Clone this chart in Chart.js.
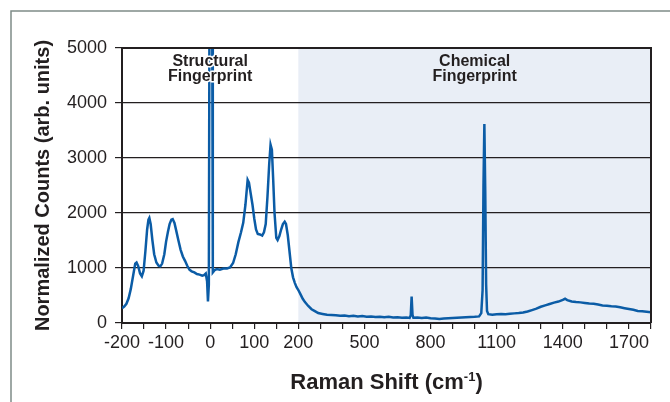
<!DOCTYPE html>
<html>
<head>
<meta charset="utf-8">
<script src="https://cdn.jsdelivr.net/npm/chart.js@4.4.1/dist/chart.umd.min.js"></script>
<style>
  html, body { margin: 0; padding: 0; background: #fff; }
</style>
</head>
<body>
<canvas id="ramanChart" width="670" height="402"></canvas>
<script>
// Raman shift (cm-1) and normalized counts
var shift = [
  -200, -195, -190, -185, -180, -175, -170, -167, -163, -159, -155, -151, -147, -143, -140, -138,
  -135, -131, -127, -122, -117, -113, -109, -104, -100, -96, -92, -88, -85, -81, -77, -72,
  -67, -62, -57, -52, -47, -42, -36, -30, -24, -18, -14, -10, -7, -5, -3, -1.5,
  4.5, 6, 10, 15, 22, 30, 38, 45, 52, 58, 64, 70, 75, 80, 85, 88,
  92, 96, 100, 104, 108, 113, 118, 122, 126, 130, 134, 137, 140, 143, 146, 150,
  153, 157, 161, 165, 169, 172, 176, 180, 184, 188, 192, 196, 200,
  210, 220, 230, 245, 260, 275, 290, 310, 330, 350, 370, 390, 410, 430, 450, 470,
  490, 510, 530, 550, 570, 590, 610, 630, 650, 670, 690, 705, 710, 714, 718, 722,
  740, 760, 780, 800, 820, 840, 860, 880, 900, 920, 940, 960, 980, 1000, 1020, 1030,
  1036, 1040, 1044, 1048, 1052, 1056, 1062, 1080, 1100, 1120, 1140, 1160, 1180, 1200, 1220, 1240,
  1260, 1280, 1300, 1320, 1340, 1360, 1380, 1400, 1410, 1420, 1440, 1460, 1480, 1500, 1520, 1540,
  1560, 1580, 1600, 1620, 1640, 1660, 1680, 1700, 1720, 1740, 1760, 1780, 1800
];
var counts = [
  270, 300, 350, 450, 620, 850, 1080, 1100, 1030, 900, 850, 950, 1300, 1700, 1880, 1910,
  1800, 1500, 1250, 1100, 1040, 1030, 1080, 1250, 1480, 1650, 1800, 1880, 1890, 1820, 1680, 1500,
  1330, 1210, 1130, 1040, 970, 940, 920, 890, 880, 860, 870, 900, 760, 390, 700, 6000,
  6000, 920, 960, 980, 970, 990, 990, 1010, 1090, 1250, 1470, 1650, 1820, 2150, 2600, 2550,
  2350, 2150, 1900, 1700, 1620, 1610, 1590, 1650, 1800, 2300, 2900, 3240, 3150, 2600, 2000, 1550,
  1510, 1580, 1700, 1800, 1840, 1800, 1600, 1300, 1000, 830, 730, 650, 600,
  520, 440, 380, 310, 250, 215, 180, 165, 150, 145, 140, 130, 135, 125, 130, 120,
  125, 115, 120, 110, 115, 105, 112, 100, 105, 95, 100, 92, 140, 480, 150, 95,
  100, 92, 98, 88, 80, 72, 80, 85, 90, 95, 100, 105, 110, 112, 120, 180,
  600, 2500, 3620, 2400, 700, 220, 160, 150, 160, 165, 160, 170, 175, 180, 190, 210,
  235, 260, 295, 320, 345, 370, 390, 420, 440, 415, 390, 380, 375, 365, 355, 350,
  335, 320, 315, 305, 300, 285, 270, 255, 240, 220, 215, 205, 195
];
var xTickLabels = [-200, -100, 0, 100, 200, 500, 800, 1100, 1400, 1700];
var yTicks = [0, 1000, 2000, 3000, 4000, 5000];
var regionLabels = [
  { at: 0, lines: ['Structural', 'Fingerprint'] },
  { at: 1000, lines: ['Chemical', 'Fingerprint'] }
];
var chemicalStart = 200;

// axis is broken at 200: above it one unit on the axis stands for two cm-1
function toAxis(v) { return v <= 200 ? v : 200 + (v - 200) / 2; }
function fromAxis(v) { return v <= 200 ? v : 200 + (v - 200) * 2; }

var points = shift.map(function (s, i) { return { x: toAxis(s), y: counts[i] }; });

var ink = '#231f20';
var fontFamily = '"Liberation Sans", Arial, Helvetica, sans-serif';

var decorations = {
  id: 'decorations',
  beforeDraw: function (chart) {
    var ctx = chart.ctx, area = chart.chartArea, xs = chart.scales.x;
    ctx.save();
    ctx.fillStyle = '#ffffff';
    ctx.fillRect(0, 0, chart.width, chart.height);
    // shaded chemical fingerprint region
    var x0 = xs.getPixelForValue(toAxis(chemicalStart));
    ctx.fillStyle = '#e9eef6';
    ctx.fillRect(x0, area.top, area.right - x0, area.bottom - area.top);
    // outer frame
    ctx.strokeStyle = '#7f8c88';
    ctx.lineWidth = 1.5;
    ctx.beginPath();
    ctx.moveTo(11, chart.height);
    ctx.lineTo(11, 11);
    ctx.lineTo(chart.width, 11);
    ctx.stroke();
    ctx.restore();
  },
  afterDatasetsDraw: function (chart) {
    var ctx = chart.ctx, area = chart.chartArea, xs = chart.scales.x;
    ctx.save();
    ctx.strokeStyle = ink;
    ctx.lineWidth = 2;
    ctx.beginPath();
    ctx.moveTo(area.left, area.top);
    ctx.lineTo(area.right, area.top);
    ctx.lineTo(area.right, area.bottom);
    ctx.stroke();

    // region captions
    ctx.font = 'bold 16px ' + fontFamily;
    ctx.textAlign = 'center';
    ctx.textBaseline = 'middle';
    ctx.lineJoin = 'round';
    regionLabels.forEach(function (r) {
      var cx = xs.getPixelForValue(toAxis(r.at));
      r.lines.forEach(function (t, k) {
        var cy = area.top + 14 + k * 15;
        ctx.strokeStyle = r.at < chemicalStart ? '#ffffff' : '#e9eef6';
        ctx.lineWidth = 3;
        ctx.strokeText(t, cx, cy);
        ctx.fillStyle = ink;
        ctx.fillText(t, cx, cy);
      });
    });

    // x axis title with superscript
    var main = 'Raman Shift (cm', sup = '-1', tail = ')';
    var big = 'bold 22px ' + fontFamily, small = 'bold 13px ' + fontFamily;
    ctx.font = big;
    var wMain = ctx.measureText(main).width, wTail = ctx.measureText(tail).width;
    ctx.font = small;
    var wSup = ctx.measureText(sup).width;
    var total = wMain + wSup + wTail;
    var left = (area.left + area.right) / 2 - total / 2;
    var base = 389;
    ctx.textAlign = 'left';
    ctx.textBaseline = 'alphabetic';
    ctx.fillStyle = ink;
    ctx.font = big;
    ctx.fillText(main, left, base);
    ctx.font = small;
    ctx.fillText(sup, left + wMain, base - 8);
    ctx.font = big;
    ctx.fillText(tail, left + wMain + wSup, base);
    ctx.restore();
  }
};

var ctx = document.getElementById('ramanChart').getContext('2d');
var ramanChart = new Chart(ctx, {
  type: 'line',
  data: {
    datasets: [{
      data: points,
      borderColor: '#0b5ca6',
      borderWidth: 2.5,
      pointRadius: 0,
      fill: false,
      tension: 0
    }]
  },
  options: {
    responsive: false,
    animation: false,
    parsing: false,
    layout: { padding: { top: 48, right: 19, left: 0, bottom: 0 } },
    plugins: { legend: { display: false }, tooltip: { enabled: false } },
    scales: {
      x: {
        type: 'linear',
        min: toAxis(-200),
        max: toAxis(1800),
        afterFit: function (scale) { scale.height = 79; },
        grid: { drawOnChartArea: false, drawTicks: true, tickLength: 6, color: ink, lineWidth: 1.2 },
        border: { display: true, color: ink, width: 2 },
        ticks: {
          stepSize: 50,
          autoSkip: false,
          maxRotation: 0,
          padding: 3,
          color: ink,
          font: { family: fontFamily, size: 18 },
          callback: function (v) {
            var real = Math.round(fromAxis(v));
            return xTickLabels.indexOf(real) >= 0 ? String(real) : '';
          }
        }
      },
      y: {
        min: yTicks[0],
        max: yTicks[yTicks.length - 1],
        afterFit: function (scale) { scale.width = 122; },
        afterBuildTicks: function (scale) { scale.ticks = yTicks.map(function (v) { return { value: v }; }); },
        grid: { color: ink, lineWidth: 1.2, tickLength: 7 },
        border: { display: true, color: ink, width: 2 },
        ticks: {
          padding: 8,
          color: ink,
          font: { family: fontFamily, size: 18 },
          callback: function (v) { return String(v); }
        },
        title: {
          display: true,
          text: 'Normalized Counts (arb. units)',
          color: ink,
          padding: { top: 31, bottom: 0 },
          font: { family: fontFamily, size: 20, weight: 'bold' }
        }
      }
    }
  },
  plugins: [decorations]
});
</script>
</body>
</html>
